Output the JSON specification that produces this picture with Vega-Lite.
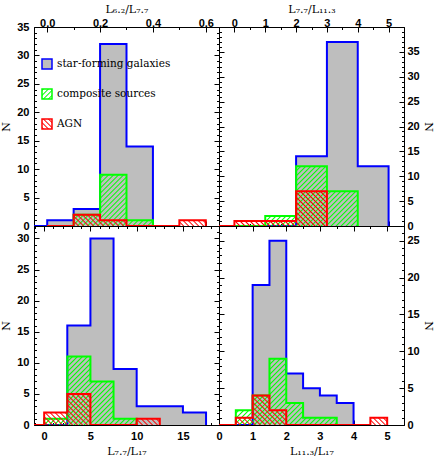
{
"$schema":"https://vega.github.io/schema/vega-lite/v6.json",
"background":"white",
"padding":{"left":0,"top":3,"right":0,"bottom":0},
"params":[
{"name":"gs","value":[{"offset":0,"color":"rgba(0,255,0,0)"},{"offset":0.007,"color":"#00ff00"},{"offset":0.014,"color":"rgba(0,255,0,0)"},{"offset":0.025,"color":"rgba(0,255,0,0)"},{"offset":0.032,"color":"#00ff00"},{"offset":0.039,"color":"rgba(0,255,0,0)"},{"offset":0.05,"color":"rgba(0,255,0,0)"},{"offset":0.057,"color":"#00ff00"},{"offset":0.064,"color":"rgba(0,255,0,0)"},{"offset":0.075,"color":"rgba(0,255,0,0)"},{"offset":0.082,"color":"#00ff00"},{"offset":0.089,"color":"rgba(0,255,0,0)"},{"offset":0.1,"color":"rgba(0,255,0,0)"},{"offset":0.107,"color":"#00ff00"},{"offset":0.114,"color":"rgba(0,255,0,0)"},{"offset":0.125,"color":"rgba(0,255,0,0)"},{"offset":0.132,"color":"#00ff00"},{"offset":0.139,"color":"rgba(0,255,0,0)"},{"offset":0.15,"color":"rgba(0,255,0,0)"},{"offset":0.157,"color":"#00ff00"},{"offset":0.164,"color":"rgba(0,255,0,0)"},{"offset":0.175,"color":"rgba(0,255,0,0)"},{"offset":0.182,"color":"#00ff00"},{"offset":0.189,"color":"rgba(0,255,0,0)"},{"offset":0.2,"color":"rgba(0,255,0,0)"},{"offset":0.207,"color":"#00ff00"},{"offset":0.214,"color":"rgba(0,255,0,0)"},{"offset":0.225,"color":"rgba(0,255,0,0)"},{"offset":0.232,"color":"#00ff00"},{"offset":0.239,"color":"rgba(0,255,0,0)"},{"offset":0.25,"color":"rgba(0,255,0,0)"},{"offset":0.257,"color":"#00ff00"},{"offset":0.264,"color":"rgba(0,255,0,0)"},{"offset":0.275,"color":"rgba(0,255,0,0)"},{"offset":0.282,"color":"#00ff00"},{"offset":0.289,"color":"rgba(0,255,0,0)"},{"offset":0.3,"color":"rgba(0,255,0,0)"},{"offset":0.307,"color":"#00ff00"},{"offset":0.314,"color":"rgba(0,255,0,0)"},{"offset":0.325,"color":"rgba(0,255,0,0)"},{"offset":0.332,"color":"#00ff00"},{"offset":0.339,"color":"rgba(0,255,0,0)"},{"offset":0.35,"color":"rgba(0,255,0,0)"},{"offset":0.357,"color":"#00ff00"},{"offset":0.364,"color":"rgba(0,255,0,0)"},{"offset":0.375,"color":"rgba(0,255,0,0)"},{"offset":0.382,"color":"#00ff00"},{"offset":0.389,"color":"rgba(0,255,0,0)"},{"offset":0.4,"color":"rgba(0,255,0,0)"},{"offset":0.407,"color":"#00ff00"},{"offset":0.414,"color":"rgba(0,255,0,0)"},{"offset":0.425,"color":"rgba(0,255,0,0)"},{"offset":0.432,"color":"#00ff00"},{"offset":0.439,"color":"rgba(0,255,0,0)"},{"offset":0.45,"color":"rgba(0,255,0,0)"},{"offset":0.457,"color":"#00ff00"},{"offset":0.464,"color":"rgba(0,255,0,0)"},{"offset":0.475,"color":"rgba(0,255,0,0)"},{"offset":0.482,"color":"#00ff00"},{"offset":0.489,"color":"rgba(0,255,0,0)"},{"offset":0.5,"color":"rgba(0,255,0,0)"},{"offset":0.507,"color":"#00ff00"},{"offset":0.514,"color":"rgba(0,255,0,0)"},{"offset":0.525,"color":"rgba(0,255,0,0)"},{"offset":0.532,"color":"#00ff00"},{"offset":0.539,"color":"rgba(0,255,0,0)"},{"offset":0.55,"color":"rgba(0,255,0,0)"},{"offset":0.557,"color":"#00ff00"},{"offset":0.564,"color":"rgba(0,255,0,0)"},{"offset":0.575,"color":"rgba(0,255,0,0)"},{"offset":0.582,"color":"#00ff00"},{"offset":0.589,"color":"rgba(0,255,0,0)"},{"offset":0.6,"color":"rgba(0,255,0,0)"},{"offset":0.607,"color":"#00ff00"},{"offset":0.614,"color":"rgba(0,255,0,0)"},{"offset":0.625,"color":"rgba(0,255,0,0)"},{"offset":0.632,"color":"#00ff00"},{"offset":0.639,"color":"rgba(0,255,0,0)"},{"offset":0.65,"color":"rgba(0,255,0,0)"},{"offset":0.657,"color":"#00ff00"},{"offset":0.664,"color":"rgba(0,255,0,0)"},{"offset":0.675,"color":"rgba(0,255,0,0)"},{"offset":0.682,"color":"#00ff00"},{"offset":0.689,"color":"rgba(0,255,0,0)"},{"offset":0.7,"color":"rgba(0,255,0,0)"},{"offset":0.707,"color":"#00ff00"},{"offset":0.714,"color":"rgba(0,255,0,0)"},{"offset":0.725,"color":"rgba(0,255,0,0)"},{"offset":0.732,"color":"#00ff00"},{"offset":0.739,"color":"rgba(0,255,0,0)"},{"offset":0.75,"color":"rgba(0,255,0,0)"},{"offset":0.757,"color":"#00ff00"},{"offset":0.764,"color":"rgba(0,255,0,0)"},{"offset":0.775,"color":"rgba(0,255,0,0)"},{"offset":0.782,"color":"#00ff00"},{"offset":0.789,"color":"rgba(0,255,0,0)"},{"offset":0.8,"color":"rgba(0,255,0,0)"},{"offset":0.807,"color":"#00ff00"},{"offset":0.814,"color":"rgba(0,255,0,0)"},{"offset":0.825,"color":"rgba(0,255,0,0)"},{"offset":0.832,"color":"#00ff00"},{"offset":0.839,"color":"rgba(0,255,0,0)"},{"offset":0.85,"color":"rgba(0,255,0,0)"},{"offset":0.857,"color":"#00ff00"},{"offset":0.864,"color":"rgba(0,255,0,0)"},{"offset":0.875,"color":"rgba(0,255,0,0)"},{"offset":0.882,"color":"#00ff00"},{"offset":0.889,"color":"rgba(0,255,0,0)"},{"offset":0.9,"color":"rgba(0,255,0,0)"},{"offset":0.907,"color":"#00ff00"},{"offset":0.914,"color":"rgba(0,255,0,0)"},{"offset":0.925,"color":"rgba(0,255,0,0)"},{"offset":0.932,"color":"#00ff00"},{"offset":0.939,"color":"rgba(0,255,0,0)"},{"offset":0.95,"color":"rgba(0,255,0,0)"},{"offset":0.957,"color":"#00ff00"},{"offset":0.964,"color":"rgba(0,255,0,0)"},{"offset":0.975,"color":"rgba(0,255,0,0)"},{"offset":0.982,"color":"#00ff00"},{"offset":0.989,"color":"rgba(0,255,0,0)"},{"offset":1,"color":"rgba(0,255,0,0)"}]},
{"name":"rs","value":[{"offset":0,"color":"rgba(255,0,0,0)"},{"offset":0.007,"color":"#ff0000"},{"offset":0.014,"color":"rgba(255,0,0,0)"},{"offset":0.025,"color":"rgba(255,0,0,0)"},{"offset":0.032,"color":"#ff0000"},{"offset":0.039,"color":"rgba(255,0,0,0)"},{"offset":0.05,"color":"rgba(255,0,0,0)"},{"offset":0.057,"color":"#ff0000"},{"offset":0.064,"color":"rgba(255,0,0,0)"},{"offset":0.075,"color":"rgba(255,0,0,0)"},{"offset":0.082,"color":"#ff0000"},{"offset":0.089,"color":"rgba(255,0,0,0)"},{"offset":0.1,"color":"rgba(255,0,0,0)"},{"offset":0.107,"color":"#ff0000"},{"offset":0.114,"color":"rgba(255,0,0,0)"},{"offset":0.125,"color":"rgba(255,0,0,0)"},{"offset":0.132,"color":"#ff0000"},{"offset":0.139,"color":"rgba(255,0,0,0)"},{"offset":0.15,"color":"rgba(255,0,0,0)"},{"offset":0.157,"color":"#ff0000"},{"offset":0.164,"color":"rgba(255,0,0,0)"},{"offset":0.175,"color":"rgba(255,0,0,0)"},{"offset":0.182,"color":"#ff0000"},{"offset":0.189,"color":"rgba(255,0,0,0)"},{"offset":0.2,"color":"rgba(255,0,0,0)"},{"offset":0.207,"color":"#ff0000"},{"offset":0.214,"color":"rgba(255,0,0,0)"},{"offset":0.225,"color":"rgba(255,0,0,0)"},{"offset":0.232,"color":"#ff0000"},{"offset":0.239,"color":"rgba(255,0,0,0)"},{"offset":0.25,"color":"rgba(255,0,0,0)"},{"offset":0.257,"color":"#ff0000"},{"offset":0.264,"color":"rgba(255,0,0,0)"},{"offset":0.275,"color":"rgba(255,0,0,0)"},{"offset":0.282,"color":"#ff0000"},{"offset":0.289,"color":"rgba(255,0,0,0)"},{"offset":0.3,"color":"rgba(255,0,0,0)"},{"offset":0.307,"color":"#ff0000"},{"offset":0.314,"color":"rgba(255,0,0,0)"},{"offset":0.325,"color":"rgba(255,0,0,0)"},{"offset":0.332,"color":"#ff0000"},{"offset":0.339,"color":"rgba(255,0,0,0)"},{"offset":0.35,"color":"rgba(255,0,0,0)"},{"offset":0.357,"color":"#ff0000"},{"offset":0.364,"color":"rgba(255,0,0,0)"},{"offset":0.375,"color":"rgba(255,0,0,0)"},{"offset":0.382,"color":"#ff0000"},{"offset":0.389,"color":"rgba(255,0,0,0)"},{"offset":0.4,"color":"rgba(255,0,0,0)"},{"offset":0.407,"color":"#ff0000"},{"offset":0.414,"color":"rgba(255,0,0,0)"},{"offset":0.425,"color":"rgba(255,0,0,0)"},{"offset":0.432,"color":"#ff0000"},{"offset":0.439,"color":"rgba(255,0,0,0)"},{"offset":0.45,"color":"rgba(255,0,0,0)"},{"offset":0.457,"color":"#ff0000"},{"offset":0.464,"color":"rgba(255,0,0,0)"},{"offset":0.475,"color":"rgba(255,0,0,0)"},{"offset":0.482,"color":"#ff0000"},{"offset":0.489,"color":"rgba(255,0,0,0)"},{"offset":0.5,"color":"rgba(255,0,0,0)"},{"offset":0.507,"color":"#ff0000"},{"offset":0.514,"color":"rgba(255,0,0,0)"},{"offset":0.525,"color":"rgba(255,0,0,0)"},{"offset":0.532,"color":"#ff0000"},{"offset":0.539,"color":"rgba(255,0,0,0)"},{"offset":0.55,"color":"rgba(255,0,0,0)"},{"offset":0.557,"color":"#ff0000"},{"offset":0.564,"color":"rgba(255,0,0,0)"},{"offset":0.575,"color":"rgba(255,0,0,0)"},{"offset":0.582,"color":"#ff0000"},{"offset":0.589,"color":"rgba(255,0,0,0)"},{"offset":0.6,"color":"rgba(255,0,0,0)"},{"offset":0.607,"color":"#ff0000"},{"offset":0.614,"color":"rgba(255,0,0,0)"},{"offset":0.625,"color":"rgba(255,0,0,0)"},{"offset":0.632,"color":"#ff0000"},{"offset":0.639,"color":"rgba(255,0,0,0)"},{"offset":0.65,"color":"rgba(255,0,0,0)"},{"offset":0.657,"color":"#ff0000"},{"offset":0.664,"color":"rgba(255,0,0,0)"},{"offset":0.675,"color":"rgba(255,0,0,0)"},{"offset":0.682,"color":"#ff0000"},{"offset":0.689,"color":"rgba(255,0,0,0)"},{"offset":0.7,"color":"rgba(255,0,0,0)"},{"offset":0.707,"color":"#ff0000"},{"offset":0.714,"color":"rgba(255,0,0,0)"},{"offset":0.725,"color":"rgba(255,0,0,0)"},{"offset":0.732,"color":"#ff0000"},{"offset":0.739,"color":"rgba(255,0,0,0)"},{"offset":0.75,"color":"rgba(255,0,0,0)"},{"offset":0.757,"color":"#ff0000"},{"offset":0.764,"color":"rgba(255,0,0,0)"},{"offset":0.775,"color":"rgba(255,0,0,0)"},{"offset":0.782,"color":"#ff0000"},{"offset":0.789,"color":"rgba(255,0,0,0)"},{"offset":0.8,"color":"rgba(255,0,0,0)"},{"offset":0.807,"color":"#ff0000"},{"offset":0.814,"color":"rgba(255,0,0,0)"},{"offset":0.825,"color":"rgba(255,0,0,0)"},{"offset":0.832,"color":"#ff0000"},{"offset":0.839,"color":"rgba(255,0,0,0)"},{"offset":0.85,"color":"rgba(255,0,0,0)"},{"offset":0.857,"color":"#ff0000"},{"offset":0.864,"color":"rgba(255,0,0,0)"},{"offset":0.875,"color":"rgba(255,0,0,0)"},{"offset":0.882,"color":"#ff0000"},{"offset":0.889,"color":"rgba(255,0,0,0)"},{"offset":0.9,"color":"rgba(255,0,0,0)"},{"offset":0.907,"color":"#ff0000"},{"offset":0.914,"color":"rgba(255,0,0,0)"},{"offset":0.925,"color":"rgba(255,0,0,0)"},{"offset":0.932,"color":"#ff0000"},{"offset":0.939,"color":"rgba(255,0,0,0)"},{"offset":0.95,"color":"rgba(255,0,0,0)"},{"offset":0.957,"color":"#ff0000"},{"offset":0.964,"color":"rgba(255,0,0,0)"},{"offset":0.975,"color":"rgba(255,0,0,0)"},{"offset":0.982,"color":"#ff0000"},{"offset":0.989,"color":"rgba(255,0,0,0)"},{"offset":1,"color":"rgba(255,0,0,0)"}]}
],
"datasets":{"h":[
{"p":"TL","c":"sf","x":-0.1,"n":0},{"p":"TL","c":"sf","x":0,"n":1},{"p":"TL","c":"sf","x":0.1,"n":3},{"p":"TL","c":"sf","x":0.2,"n":32},{"p":"TL","c":"sf","x":0.3,"n":14},{"p":"TL","c":"sf","x":0.4,"n":0},
{"p":"TL","c":"comp","x":0,"n":0},{"p":"TL","c":"comp","x":0.1,"n":2},{"p":"TL","c":"comp","x":0.2,"n":9},{"p":"TL","c":"comp","x":0.3,"n":1},{"p":"TL","c":"comp","x":0.4,"n":0},
{"p":"TL","c":"agn","x":0,"n":0},{"p":"TL","c":"agn","x":0.1,"n":2},{"p":"TL","c":"agn","x":0.2,"n":1},{"p":"TL","c":"agn","x":0.3,"n":0},{"p":"TL","c":"agn","x":0.4,"n":0},{"p":"TL","c":"agn","x":0.5,"n":1},{"p":"TL","c":"agn","x":0.6,"n":0},
{"p":"TR","c":"sf","x":1,"n":0},{"p":"TR","c":"sf","x":2,"n":14},{"p":"TR","c":"sf","x":3,"n":37},{"p":"TR","c":"sf","x":4,"n":12},{"p":"TR","c":"sf","x":5,"n":0},
{"p":"TR","c":"comp","x":0,"n":0},{"p":"TR","c":"comp","x":1,"n":2},{"p":"TR","c":"comp","x":2,"n":12},{"p":"TR","c":"comp","x":3,"n":7},{"p":"TR","c":"comp","x":4,"n":0},
{"p":"TR","c":"agn","x":-1,"n":0},{"p":"TR","c":"agn","x":0,"n":1},{"p":"TR","c":"agn","x":1,"n":1},{"p":"TR","c":"agn","x":2,"n":7},{"p":"TR","c":"agn","x":3,"n":0},
{"p":"BL","c":"sf","x":0,"n":0},{"p":"BL","c":"sf","x":2.5,"n":16},{"p":"BL","c":"sf","x":5,"n":30},{"p":"BL","c":"sf","x":7.5,"n":9},{"p":"BL","c":"sf","x":10,"n":3},{"p":"BL","c":"sf","x":12.5,"n":3},{"p":"BL","c":"sf","x":15,"n":2},{"p":"BL","c":"sf","x":17.5,"n":0},
{"p":"BL","c":"comp","x":-2.5,"n":0},{"p":"BL","c":"comp","x":0,"n":1},{"p":"BL","c":"comp","x":2.5,"n":11},{"p":"BL","c":"comp","x":5,"n":7},{"p":"BL","c":"comp","x":7.5,"n":1},{"p":"BL","c":"comp","x":10,"n":0},
{"p":"BL","c":"agn","x":-2.5,"n":0},{"p":"BL","c":"agn","x":0,"n":2},{"p":"BL","c":"agn","x":2.5,"n":5},{"p":"BL","c":"agn","x":5,"n":0},{"p":"BL","c":"agn","x":7.5,"n":0},{"p":"BL","c":"agn","x":10,"n":1},{"p":"BL","c":"agn","x":12.5,"n":0},
{"p":"BR","c":"sf","x":0.5,"n":0},{"p":"BR","c":"sf","x":1,"n":19},{"p":"BR","c":"sf","x":1.5,"n":25},{"p":"BR","c":"sf","x":2,"n":7},{"p":"BR","c":"sf","x":2.5,"n":5},{"p":"BR","c":"sf","x":3,"n":4},{"p":"BR","c":"sf","x":3.5,"n":3},{"p":"BR","c":"sf","x":4,"n":0},
{"p":"BR","c":"comp","x":0,"n":0},{"p":"BR","c":"comp","x":0.5,"n":2},{"p":"BR","c":"comp","x":1,"n":4},{"p":"BR","c":"comp","x":1.5,"n":9},{"p":"BR","c":"comp","x":2,"n":3},{"p":"BR","c":"comp","x":2.5,"n":1},{"p":"BR","c":"comp","x":3,"n":1},{"p":"BR","c":"comp","x":3.5,"n":0},
{"p":"BR","c":"agn","x":0,"n":0},{"p":"BR","c":"agn","x":0.5,"n":1},{"p":"BR","c":"agn","x":1,"n":4},{"p":"BR","c":"agn","x":1.5,"n":2},{"p":"BR","c":"agn","x":2,"n":0},{"p":"BR","c":"agn","x":2.5,"n":0},{"p":"BR","c":"agn","x":3,"n":0},{"p":"BR","c":"agn","x":3.5,"n":0},{"p":"BR","c":"agn","x":4,"n":0},{"p":"BR","c":"agn","x":4.5,"n":1},{"p":"BR","c":"agn","x":5,"n":0}
]},
"columns":2,
"spacing":0,
"bounds":"flush",
"resolve":{"scale":{"stroke":"independent"},"legend":{"stroke":"independent"}},
"concat":[
{"width":185,"height":199,"data":{"name":"h"},"transform":[{"filter":"datum.p=='TL'"}],
"resolve":{"axis":{"x":"independent","y":"independent"}},
"layer":[
{"transform":[{"filter":"datum.c=='sf'"}],"mark":{"type":"area","interpolate":"step-after","fill":"#bebebe","opacity":1,"clip":true},
"encoding":{"x":{"field":"x","type":"quantitative","scale":{"domain":[-0.05,0.65],"nice":false,"zero":false},"axis":{"orient":"top","values":[0,0.2,0.4,0.6],"format":".1f","ticks":false,"domain":false,"labelPadding":-1,"title":"L₆.₂/L₇.₇","titlePadding":3}},
"y":{"field":"n","type":"quantitative","stack":null,"scale":{"domain":[0,35],"nice":false,"zero":false},"axis":{"orient":"left","values":[0,5,10,15,20,25,30,35],"ticks":false,"domain":false,"labelPadding":5,"title":"N","titlePadding":5}}}},
{"transform":[{"filter":"datum.c=='sf'"}],"mark":{"type":"line","interpolate":"step-after","strokeWidth":2,"clip":true},
"encoding":{"x":{"field":"x","type":"quantitative","scale":{"domain":[-0.05,0.65],"nice":false,"zero":false},"axis":{"orient":"top","values":[0,0.2,0.4,0.6],"labels":false,"tickSize":-5,"title":null}},
"y":{"field":"n","type":"quantitative","scale":{"domain":[0,35],"nice":false,"zero":false},"axis":{"orient":"left","values":[0,5,10,15,20,25,30,35],"labels":false,"tickSize":-5,"title":null}},
"stroke":{"field":"c","type":"nominal","scale":{"domain":["sf","comp","agn"],"range":["#0000ff","#00ff00","#ff0000"]},
"legend":{"orient":"none","legendX":7,"legendY":31,"title":null,"symbolType":"square","symbolSize":100,"symbolStrokeWidth":1.5,"labelFont":"DejaVu Serif","labelFontSize":10.5,"labelColor":"black","labelOffset":4,"rowPadding":14,"padding":0,
"labelExpr":"datum.value=='sf'?'star-forming galaxies':datum.value=='comp'?'composite sources':'AGN'",
"encode":{"symbols":{"update":{"fill":{"signal":"datum.value=='sf'?'#bebebe':datum.value=='comp'?{gradient:'linear',x1:0,y1:0,x2:10,y2:10,stops:gs}:{gradient:'linear',x1:0,y1:1,x2:10,y2:-9,stops:rs}"},"fillOpacity":{"value":1},"opacity":{"value":1}}}}}}}},
{"transform":[{"filter":"datum.c=='comp'"}],"mark":{"type":"area","interpolate":"step-after","fill":{"expr":"{gradient:'linear',x1:0,y1:0,x2:1.533,y2:0.742,stops:gs}"},"opacity":1,"clip":true},
"encoding":{"x":{"field":"x","type":"quantitative","scale":{"domain":[-0.05,0.65],"nice":false,"zero":false},"axis":{"orient":"bottom","values":[0,0.2,0.4,0.6],"labels":false,"tickSize":-5,"title":null}},
"y":{"field":"n","type":"quantitative","stack":null,"scale":{"domain":[0,35],"nice":false,"zero":false},"axis":{"orient":"right","values":[0,5,10,15,20,25,30,35],"labels":false,"tickSize":-5,"title":null}}}},
{"transform":[{"filter":"datum.c=='comp'"}],"mark":{"type":"line","interpolate":"step-after","strokeWidth":2,"stroke":"#00ff00","clip":true},
"encoding":{"x":{"field":"x","type":"quantitative","scale":{"domain":[-0.05,0.65],"nice":false,"zero":false},"axis":{"orient":"top","tickCount":7,"labels":false,"domain":false,"tickSize":-2.5,"title":null}},
"y":{"field":"n","type":"quantitative","scale":{"domain":[0,35],"nice":false,"zero":false},"axis":{"orient":"left","tickCount":35,"labels":false,"domain":false,"tickSize":-2.5,"title":null}}}},
{"transform":[{"filter":"datum.c=='agn'"}],"mark":{"type":"area","interpolate":"step-after","fill":{"expr":"{gradient:'linear',x1:0,y1:1,x2:1.255,y2:0.91,stops:rs}"},"opacity":1,"clip":true},
"encoding":{"x":{"field":"x","type":"quantitative","scale":{"domain":[-0.05,0.65],"nice":false,"zero":false},"axis":{"orient":"bottom","tickCount":7,"labels":false,"domain":false,"tickSize":-2.5,"title":null}},
"y":{"field":"n","type":"quantitative","stack":null,"scale":{"domain":[0,35],"nice":false,"zero":false},"axis":{"orient":"right","tickCount":35,"labels":false,"domain":false,"tickSize":-2.5,"title":null}}}},
{"transform":[{"filter":"datum.c=='agn'"}],"mark":{"type":"line","interpolate":"step-after","strokeWidth":2,"stroke":"#ff0000","clip":true},
"encoding":{"x":{"field":"x","type":"quantitative","scale":{"domain":[-0.05,0.65],"nice":false,"zero":false},"axis":null},
"y":{"field":"n","type":"quantitative","scale":{"domain":[0,35],"nice":false,"zero":false},"axis":null}}}
]},
{"width":185,"height":199,"data":{"name":"h"},"transform":[{"filter":"datum.p=='TR'"}],
"resolve":{"axis":{"x":"independent","y":"independent"}},
"layer":[
{"transform":[{"filter":"datum.c=='sf'"}],"mark":{"type":"area","interpolate":"step-after","fill":"#bebebe","opacity":1,"clip":true},
"encoding":{"x":{"field":"x","type":"quantitative","scale":{"domain":[-0.5,5.5],"nice":false,"zero":false},"axis":{"orient":"top","values":[0,1,2,3,4,5],"ticks":false,"domain":false,"labelPadding":-1,"title":"L₇.₇/L₁₁.₃","titlePadding":3}},
"y":{"field":"n","type":"quantitative","stack":null,"scale":{"domain":[0,40],"nice":false,"zero":false},"axis":{"orient":"right","values":[0,5,10,15,20,25,30,35],"ticks":false,"domain":false,"labelPadding":3,"title":"N","titlePadding":3}}}},
{"transform":[{"filter":"datum.c=='sf'"}],"mark":{"type":"line","interpolate":"step-after","strokeWidth":2,"stroke":"#0000ff","clip":true},
"encoding":{"x":{"field":"x","type":"quantitative","scale":{"domain":[-0.5,5.5],"nice":false,"zero":false},"axis":{"orient":"top","values":[0,1,2,3,4,5],"labels":false,"tickSize":-5,"title":null}},
"y":{"field":"n","type":"quantitative","scale":{"domain":[0,40],"nice":false,"zero":false},"axis":{"orient":"right","values":[0,5,10,15,20,25,30,35],"labels":false,"tickSize":-5,"title":null}}}},
{"transform":[{"filter":"datum.c=='comp'"}],"mark":{"type":"area","interpolate":"step-after","fill":{"expr":"{gradient:'linear',x1:0,y1:0,x2:1.314,y2:0.636,stops:gs}"},"opacity":1,"clip":true},
"encoding":{"x":{"field":"x","type":"quantitative","scale":{"domain":[-0.5,5.5],"nice":false,"zero":false},"axis":{"orient":"bottom","values":[0,1,2,3,4,5],"labels":false,"tickSize":-5,"title":null}},
"y":{"field":"n","type":"quantitative","stack":null,"scale":{"domain":[0,40],"nice":false,"zero":false},"axis":{"orient":"left","values":[0,5,10,15,20,25,30,35],"labels":false,"tickSize":-5,"title":null}}}},
{"transform":[{"filter":"datum.c=='comp'"}],"mark":{"type":"line","interpolate":"step-after","strokeWidth":2,"stroke":"#00ff00","clip":true},
"encoding":{"x":{"field":"x","type":"quantitative","scale":{"domain":[-0.5,5.5],"nice":false,"zero":false},"axis":{"orient":"top","tickCount":12,"labels":false,"domain":false,"tickSize":-2.5,"title":null}},
"y":{"field":"n","type":"quantitative","scale":{"domain":[0,40],"nice":false,"zero":false},"axis":{"orient":"right","tickCount":40,"labels":false,"domain":false,"tickSize":-2.5,"title":null}}}},
{"transform":[{"filter":"datum.c=='agn'"}],"mark":{"type":"area","interpolate":"step-after","fill":{"expr":"{gradient:'linear',x1:0,y1:1,x2:1.502,y2:0.576,stops:rs}"},"opacity":1,"clip":true},
"encoding":{"x":{"field":"x","type":"quantitative","scale":{"domain":[-0.5,5.5],"nice":false,"zero":false},"axis":{"orient":"bottom","tickCount":12,"labels":false,"domain":false,"tickSize":-2.5,"title":null}},
"y":{"field":"n","type":"quantitative","stack":null,"scale":{"domain":[0,40],"nice":false,"zero":false},"axis":{"orient":"left","tickCount":40,"labels":false,"domain":false,"tickSize":-2.5,"title":null}}}},
{"transform":[{"filter":"datum.c=='agn'"}],"mark":{"type":"line","interpolate":"step-after","strokeWidth":2,"stroke":"#ff0000","clip":true},
"encoding":{"x":{"field":"x","type":"quantitative","scale":{"domain":[-0.5,5.5],"nice":false,"zero":false},"axis":null},
"y":{"field":"n","type":"quantitative","scale":{"domain":[0,40],"nice":false,"zero":false},"axis":null}}}
]},
{"width":185,"height":199,"data":{"name":"h"},"transform":[{"filter":"datum.p=='BL'"}],
"resolve":{"axis":{"x":"independent","y":"independent"}},
"layer":[
{"transform":[{"filter":"datum.c=='sf'"}],"mark":{"type":"area","interpolate":"step-after","fill":"#bebebe","opacity":1,"clip":true},
"encoding":{"x":{"field":"x","type":"quantitative","scale":{"domain":[-1.1,18.9],"nice":false,"zero":false},"axis":{"orient":"bottom","values":[0,5,10,15],"ticks":false,"domain":false,"labelPadding":5,"title":"L₇.₇/L₁₇","titlePadding":4}},
"y":{"field":"n","type":"quantitative","stack":null,"scale":{"domain":[0,32],"nice":false,"zero":false},"axis":{"orient":"left","values":[0,5,10,15,20,25,30],"ticks":false,"domain":false,"labelPadding":5,"title":"N","titlePadding":5}}}},
{"transform":[{"filter":"datum.c=='sf'"}],"mark":{"type":"line","interpolate":"step-after","strokeWidth":2,"stroke":"#0000ff","clip":true},
"encoding":{"x":{"field":"x","type":"quantitative","scale":{"domain":[-1.1,18.9],"nice":false,"zero":false},"axis":{"orient":"bottom","values":[0,5,10,15],"labels":false,"tickSize":-5,"title":null}},
"y":{"field":"n","type":"quantitative","scale":{"domain":[0,32],"nice":false,"zero":false},"axis":{"orient":"left","values":[0,5,10,15,20,25,30],"labels":false,"tickSize":-5,"title":null}}}},
{"transform":[{"filter":"datum.c=='comp'"}],"mark":{"type":"area","interpolate":"step-after","fill":{"expr":"{gradient:'linear',x1:0,y1:0,x2:1.282,y2:0.758,stops:gs}"},"opacity":1,"clip":true},
"encoding":{"x":{"field":"x","type":"quantitative","scale":{"domain":[-1.1,18.9],"nice":false,"zero":false},"axis":{"orient":"top","values":[0,5,10,15],"labels":false,"tickSize":-5,"title":null}},
"y":{"field":"n","type":"quantitative","stack":null,"scale":{"domain":[0,32],"nice":false,"zero":false},"axis":{"orient":"right","values":[0,5,10,15,20,25,30],"labels":false,"tickSize":-5,"title":null}}}},
{"transform":[{"filter":"datum.c=='comp'"}],"mark":{"type":"line","interpolate":"step-after","strokeWidth":2,"stroke":"#00ff00","clip":true},
"encoding":{"x":{"field":"x","type":"quantitative","scale":{"domain":[-1.1,18.9],"nice":false,"zero":false},"axis":{"orient":"bottom","tickCount":20,"labels":false,"domain":false,"tickSize":-2.5,"title":null}},
"y":{"field":"n","type":"quantitative","scale":{"domain":[0,32],"nice":false,"zero":false},"axis":{"orient":"left","tickCount":32,"labels":false,"domain":false,"tickSize":-2.5,"title":null}}}},
{"transform":[{"filter":"datum.c=='agn'"}],"mark":{"type":"area","interpolate":"step-after","fill":{"expr":"{gradient:'linear',x1:0,y1:1,x2:1.373,y2:0.692,stops:rs}"},"opacity":1,"clip":true},
"encoding":{"x":{"field":"x","type":"quantitative","scale":{"domain":[-1.1,18.9],"nice":false,"zero":false},"axis":{"orient":"top","tickCount":20,"labels":false,"domain":false,"tickSize":-2.5,"title":null}},
"y":{"field":"n","type":"quantitative","stack":null,"scale":{"domain":[0,32],"nice":false,"zero":false},"axis":{"orient":"right","tickCount":32,"labels":false,"domain":false,"tickSize":-2.5,"title":null}}}},
{"transform":[{"filter":"datum.c=='agn'"}],"mark":{"type":"line","interpolate":"step-after","strokeWidth":2,"stroke":"#ff0000","clip":true},
"encoding":{"x":{"field":"x","type":"quantitative","scale":{"domain":[-1.1,18.9],"nice":false,"zero":false},"axis":null},
"y":{"field":"n","type":"quantitative","scale":{"domain":[0,32],"nice":false,"zero":false},"axis":null}}}
]},
{"width":185,"height":199,"data":{"name":"h"},"transform":[{"filter":"datum.p=='BR'"}],
"resolve":{"axis":{"x":"independent","y":"independent"}},
"layer":[
{"transform":[{"filter":"datum.c=='sf'"}],"mark":{"type":"area","interpolate":"step-after","fill":"#bebebe","opacity":1,"clip":true},
"encoding":{"x":{"field":"x","type":"quantitative","scale":{"domain":[0,5.5],"nice":false,"zero":false},"axis":{"orient":"bottom","values":[0,1,2,3,4,5],"ticks":false,"domain":false,"labelPadding":5,"title":"L₁₁.₃/L₁₇","titlePadding":4}},
"y":{"field":"n","type":"quantitative","stack":null,"scale":{"domain":[0,27],"nice":false,"zero":false},"axis":{"orient":"right","values":[0,5,10,15,20,25],"ticks":false,"domain":false,"labelPadding":3,"title":"N","titlePadding":3}}}},
{"transform":[{"filter":"datum.c=='sf'"}],"mark":{"type":"line","interpolate":"step-after","strokeWidth":2,"stroke":"#0000ff","clip":true},
"encoding":{"x":{"field":"x","type":"quantitative","scale":{"domain":[0,5.5],"nice":false,"zero":false},"axis":{"orient":"bottom","values":[0,1,2,3,4,5],"labels":false,"tickSize":-5,"title":null}},
"y":{"field":"n","type":"quantitative","scale":{"domain":[0,27],"nice":false,"zero":false},"axis":{"orient":"right","values":[0,5,10,15,20,25],"labels":false,"tickSize":-5,"title":null}}}},
{"transform":[{"filter":"datum.c=='comp'"}],"mark":{"type":"area","interpolate":"step-after","fill":{"expr":"{gradient:'linear',x1:0,y1:0,x2:1.29,y2:0.727,stops:gs}"},"opacity":1,"clip":true},
"encoding":{"x":{"field":"x","type":"quantitative","scale":{"domain":[0,5.5],"nice":false,"zero":false},"axis":{"orient":"top","values":[0,1,2,3,4,5],"labels":false,"tickSize":-5,"title":null}},
"y":{"field":"n","type":"quantitative","stack":null,"scale":{"domain":[0,27],"nice":false,"zero":false},"axis":{"orient":"left","values":[0,5,10,15,20,25],"labels":false,"tickSize":-5,"title":null}}}},
{"transform":[{"filter":"datum.c=='comp'"}],"mark":{"type":"line","interpolate":"step-after","strokeWidth":2,"stroke":"#00ff00","clip":true},
"encoding":{"x":{"field":"x","type":"quantitative","scale":{"domain":[0,5.5],"nice":false,"zero":false},"axis":{"orient":"bottom","tickCount":11,"labels":false,"domain":false,"tickSize":-2.5,"title":null}},
"y":{"field":"n","type":"quantitative","scale":{"domain":[0,27],"nice":false,"zero":false},"axis":{"orient":"right","tickCount":27,"labels":false,"domain":false,"tickSize":-2.5,"title":null}}}},
{"transform":[{"filter":"datum.c=='agn'"}],"mark":{"type":"area","interpolate":"step-after","fill":{"expr":"{gradient:'linear',x1:0,y1:1,x2:1.154,y2:0.798,stops:rs}"},"opacity":1,"clip":true},
"encoding":{"x":{"field":"x","type":"quantitative","scale":{"domain":[0,5.5],"nice":false,"zero":false},"axis":{"orient":"top","tickCount":11,"labels":false,"domain":false,"tickSize":-2.5,"title":null}},
"y":{"field":"n","type":"quantitative","stack":null,"scale":{"domain":[0,27],"nice":false,"zero":false},"axis":{"orient":"left","tickCount":27,"labels":false,"domain":false,"tickSize":-2.5,"title":null}}}},
{"transform":[{"filter":"datum.c=='agn'"}],"mark":{"type":"line","interpolate":"step-after","strokeWidth":2,"stroke":"#ff0000","clip":true},
"encoding":{"x":{"field":"x","type":"quantitative","scale":{"domain":[0,5.5],"nice":false,"zero":false},"axis":null},
"y":{"field":"n","type":"quantitative","scale":{"domain":[0,27],"nice":false,"zero":false},"axis":null}}}
]}
],
"config":{
"view":{"stroke":null},
"axis":{"grid":false,"zindex":1,"domainColor":"black","domainWidth":1,"tickColor":"black","tickWidth":1,"labelColor":"black","labelFont":"Liberation Sans","labelFontSize":11,"labelFontWeight":"bold","labelFlush":false,"labelOverlap":false,"labelBound":false,"titleColor":"black","titleFont":"DejaVu Serif","titleFontSize":11,"titleFontWeight":"normal"}
}
}
